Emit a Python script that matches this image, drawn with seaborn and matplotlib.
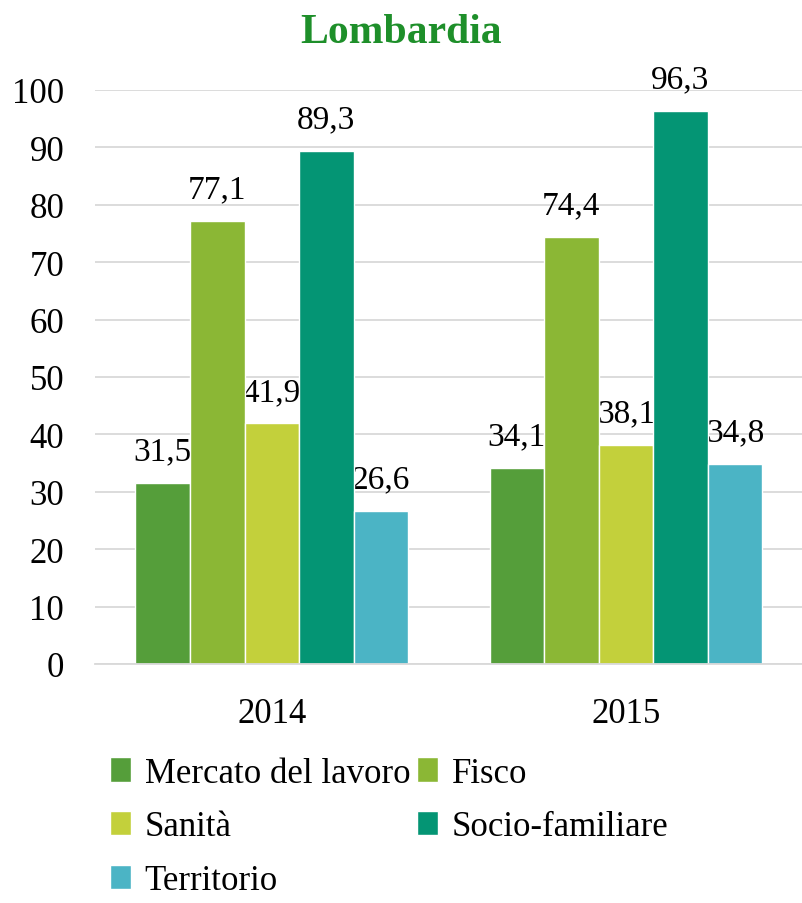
import pandas as pd
import seaborn as sns
import matplotlib.pyplot as plt

# data
years = ["2014", "2015"]
categories = ["Mercato del lavoro", "Fisco", "Sanità", "Socio-familiare", "Territorio"]
values_2014 = [31.5, 77.1, 41.9, 89.3, 26.6]
values_2015 = [34.1, 74.4, 38.1, 96.3, 34.8]
colors = ["#559E3A", "#8BB735", "#C3D03B", "#049574", "#4BB4C5"]

df = pd.DataFrame({
    "anno": [years[0]] * len(categories) + [years[1]] * len(categories),
    "area": categories * 2,
    "valore": values_2014 + values_2015,
})

sns.set_theme(style="white")
plt.rcParams["font.family"] = ["Liberation Serif", "DejaVu Serif"]
plt.rcParams["text.color"] = "#000000"

fig = plt.figure(figsize=(8.03, 9.04), dpi=100)
ax = fig.add_axes([0.118, 0.2644, 0.882, 0.635])

sns.barplot(data=df, x="anno", y="valore", hue="area", hue_order=categories,
            palette=colors, width=0.77, saturation=1, ax=ax, legend=True,
            zorder=2)

# value labels sit under the bars, like in the original where neighbours cover them
for bars in ax.containers:
    ax.bar_label(bars, labels=[f"{b.get_height():.1f}".replace(".", ",") for b in bars],
                 padding=12, fontsize=24, color="#000000", zorder=1)

ax.set_ylim(0, 100)
ax.set_xlim(-0.5, 1.5)
ax.set_yticks(range(0, 101, 10))
ax.yaxis.grid(True, color="#D9D9D9", linewidth=1.3, zorder=0)
ax.set_axisbelow(True)
for side in ["top", "right", "left"]:
    ax.spines[side].set_visible(False)
ax.spines["bottom"].set_color("#D9D9D9")
ax.spines["bottom"].set_linewidth(1.3)
ax.tick_params(axis="both", length=0, labelsize=25, colors="#000000")
ax.tick_params(axis="x", pad=24)
ax.tick_params(axis="y", pad=22)
ax.set_xlabel("")
ax.set_ylabel("")

fig.suptitle("Lombardia", x=0.5, y=0.984, fontsize=30, fontweight="bold", color="#1E8F2A")

handles, labels = ax.get_legend_handles_labels()
order = [0, 2, 4, 1, 3]
leg = ax.legend([handles[i] for i in order], [labels[i] for i in order],
                ncol=2, loc="upper left", bbox_to_anchor=(0.137, 0.162),
                bbox_transform=fig.transFigure, frameon=False, fontsize=25,
                handlelength=0.6, handleheight=0.7, handletextpad=0.4,
                columnspacing=0.2, labelspacing=0.6, borderaxespad=0, borderpad=0)
for t in leg.get_texts():
    t.set_color("#000000")

fig.savefig("out.png", dpi=100)
